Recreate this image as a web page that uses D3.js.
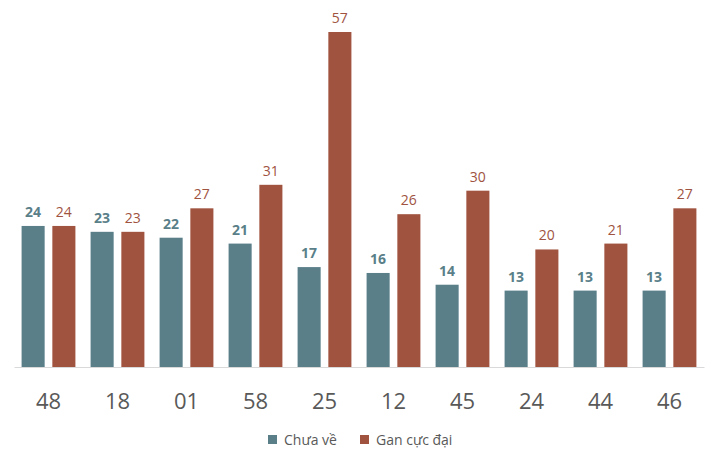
<!DOCTYPE html>
<html>
<head>
<meta charset="utf-8">
<script src="https://cdn.jsdelivr.net/npm/d3@7"></script>
<style>
  body { margin: 0; background: #fff; }
  text { font-family: "Open Sans", "Noto Sans", sans-serif; }
</style>
</head>
<body>
<div class="svg-container"></div>
<script>
// Data
const categories = ['48', '18', '01', '58', '25', '12', '45', '24', '44', '46'];
const chuaVe = [24, 23, 22, 21, 17, 16, 14, 13, 13, 13];
const ganCucDai = [24, 23, 27, 31, 57, 26, 30, 20, 21, 27];
const seriesNames = ['Chưa về', 'Gan cực đại'];
const seriesColors = ['#5a7f89', '#a0533f'];

const width = 716, height = 462;
const baseline = 367;

const rows = categories.map((c, i) => ({ cat: c, vals: [chuaVe[i], ganCucDai[i]] }));

const svg = d3.select('.svg-container')
  .append('svg')
  .attr('width', width)
  .attr('height', height);

const x0 = d3.scaleBand()
  .domain(categories)
  .range([14, 704])
  .paddingInner(0.22)
  .paddingOuter(0.11);

const x1 = d3.scaleBand()
  .domain([0, 1])
  .range([0, x0.bandwidth()])
  .paddingInner(0.25);

const y = d3.scaleLinear()
  .domain([0, 57])
  .range([baseline, 32]);

// bars
const groups = svg.selectAll('.grp')
  .data(rows)
  .enter()
  .append('g')
  .attr('class', 'grp')
  .attr('transform', d => `translate(${x0(d.cat)},0)`);

groups.selectAll('rect')
  .data(d => d.vals.map((v, k) => ({ v, k })))
  .enter()
  .append('rect')
  .attr('x', d => x1(d.k))
  .attr('y', d => y(d.v))
  .attr('width', x1.bandwidth())
  .attr('height', d => baseline - y(d.v))
  .attr('fill', d => seriesColors[d.k]);

groups.selectAll('.lbl')
  .data(d => d.vals.map((v, k) => ({ v, k })))
  .enter()
  .append('text')
  .attr('class', 'lbl')
  .attr('x', d => x1(d.k) + x1.bandwidth() / 2)
  .attr('y', d => y(d.v) - 9)
  .attr('text-anchor', 'middle')
  .attr('font-size', 14)
  .attr('font-weight', d => d.k === 0 ? 'bold' : 'normal')
  .attr('fill', d => d.k === 0 ? '#5a7f89' : '#a0533f')
  .text(d => d.v);

// axis
const xAxis = d3.axisBottom(x0).tickSize(0).tickPadding(26);
const axisG = svg.append('g')
  .attr('transform', `translate(0,${baseline})`)
  .call(xAxis);
axisG.select('.domain').attr('stroke', '#d9d9d9');
axisG.selectAll('text')
  .attr('font-size', 22)
  .attr('fill', '#595959')
  .style('font-family', '"Open Sans", "Noto Sans", sans-serif');

// legend
const legend = svg.append('g').attr('transform', 'translate(268,440)');
const items = [{ x: 0 }, { x: 92 }];
items.forEach((it, k) => {
  legend.append('rect')
    .attr('x', it.x).attr('y', -5)
    .attr('width', 9).attr('height', 9)
    .attr('fill', seriesColors[k]);
  legend.append('text')
    .attr('x', it.x + 16).attr('y', 5)
    .attr('font-size', 14)
    .attr('fill', '#595959')
    .text(seriesNames[k]);
});
</script>
</body>
</html>
